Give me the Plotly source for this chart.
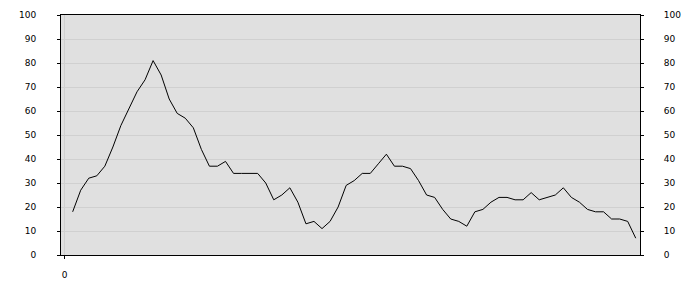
import plotly.graph_objects as go

# data values
x_index = list(range(1, 72))
values = [18, 27, 32, 33, 37, 45, 54, 61, 68, 73,
          81, 75, 65, 59, 57, 53, 44, 37, 37, 39,
          34, 34, 34, 34, 30, 23, 25, 28, 22, 13,
          14, 11, 14, 20, 29, 31, 34, 34, 38, 42,
          37, 37, 36, 31, 25, 24, 19, 15, 14, 12,
          18, 19, 22, 24, 24, 23, 23, 26, 23, 24,
          25, 28, 24, 22, 19, 18, 18, 15, 15, 14, 7]
y_ticks = [0, 10, 20, 30, 40, 50, 60, 70, 80, 90, 100]
x_ticks = [0]

font = dict(family="DejaVu Sans", size=9, color="#000000")

fig = go.Figure()
fig.add_trace(go.Scatter(x=x_index, y=values, mode="lines",
                         line=dict(color="#000000", width=1),
                         showlegend=False, hoverinfo="skip"))
fig.add_trace(go.Scatter(x=x_index, y=values, mode="lines", yaxis="y2",
                         line=dict(color="rgba(0,0,0,0)", width=0),
                         showlegend=False, hoverinfo="skip"))

fig.update_layout(
    width=700, height=300,
    margin=dict(l=61, r=60, t=10, b=45, pad=0),
    paper_bgcolor="#ffffff",
    plot_bgcolor="#e0e0e0",
    font=font,
    xaxis=dict(range=[-0.45, 71.53], tickvals=x_ticks, ticktext=["0"],
               showgrid=True, gridcolor="#d0d0d0", gridwidth=1,
               zeroline=False, showline=True, linecolor="#000000", linewidth=1,
               mirror=True, ticks="outside", ticklen=3, tickcolor="#000000",
               ticklabelstandoff=8, tickfont=font),
    yaxis=dict(range=[0, 100], tickvals=y_ticks,
               showgrid=True, gridcolor="#d0d0d0", gridwidth=1,
               zeroline=False, showline=True, linecolor="#000000", linewidth=1,
               mirror=True, ticks="outside", ticklen=3, tickcolor="#000000",
               ticklabelstandoff=19, tickfont=font),
    yaxis2=dict(range=[0, 100], tickvals=y_ticks, overlaying="y", side="right",
                showgrid=False, zeroline=False, showline=True, linecolor="#000000",
                linewidth=1, ticks="outside", ticklen=3, tickcolor="#000000",
                ticklabelstandoff=18, tickfont=font),
)

fig.write_html("out.html")
